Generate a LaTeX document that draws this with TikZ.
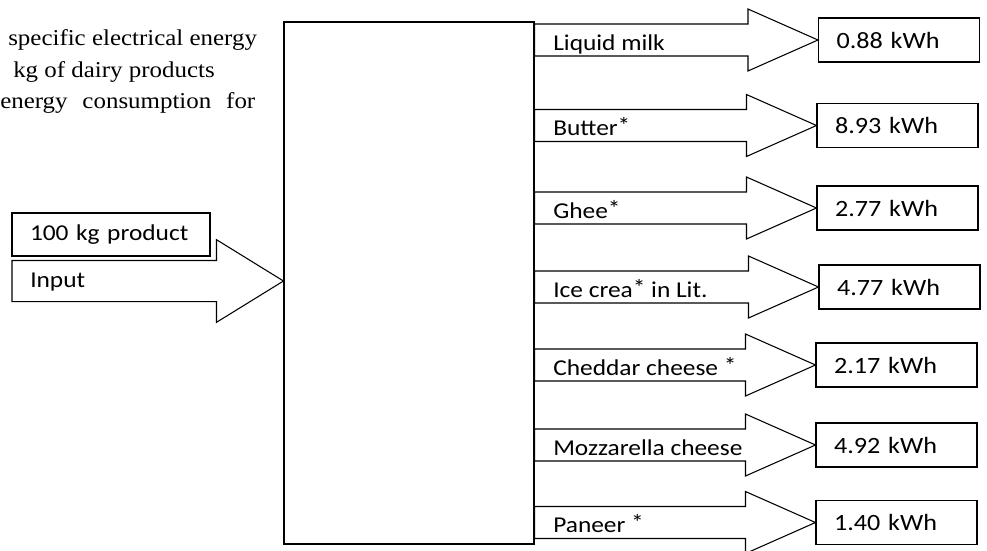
\documentclass[tikz,border=0pt]{standalone}
\usepackage{fontspec}
\setmainfont{Liberation Serif}[FakeStretch=1.1]
\newfontfamily\calfont{Carlito}[FakeStretch=1.12]
\usetikzlibrary{calc}

\tikzset{
  flowline/.style={line width=0.8pt, line join=miter},
  valbox/.style={draw, line width=0.8pt, minimum height=33pt, text width=93.75pt,
    inner xsep=13.5pt, align=left, font=\calfont\fontsize{17.5}{20}\selectfont},
  prodlabel/.style={anchor=base west, inner sep=0pt, font=\calfont\fontsize{17}{20}\selectfont},
  headtext/.style={anchor=base west, inner sep=0pt, font=\fontsize{17}{24}\selectfont}
}

% raised star as in the labels
\newcommand{\starmark}{\raisebox{.15ex}{*}}

% block arrow from the side of one node to the west of another
\newcommand{\flowarrow}[2]{%
  \draw[flowline] let \p1=(#1), \p2=(#2.west) in
    (\x1,\y2+12pt) -- (\x2-52.5pt,\y2+12pt) -- (\x2-52.5pt,\y2+23.25pt) -- (\p2)
    -- (\x2-52.5pt,\y2-23.25pt) -- (\x2-52.5pt,\y2-12pt) -- (\x1,\y2-12pt) -- cycle;}

\begin{document}
\begin{tikzpicture}[x=0.75pt, y=-0.75pt]
\useasboundingbox (0,0) rectangle (987,550);
%
% heading (cut at the left)
\node[headtext] (head1) at (8,45) {specific electrical energy};
\node[headtext] (head2) at (13,77) {kg of dairy products};
\node[headtext] (head3) at (0,108) {\makebox[191.25pt][s]{energy consumption for}};
%
% plant box
\node[draw, line width=0.8pt, minimum width=187.5pt, minimum height=391.5pt] (bigbox) at (409,283) {};
%
% input side
\node[draw, line width=0.8pt, minimum width=148.5pt, minimum height=32.25pt, text width=121.5pt,
  inner xsep=13.5pt, align=left, font=\calfont\fontsize{17}{20}\selectfont] (amount) at (111,234.5) {100 kg product};
\coordinate (inleft) at (12,281);
\draw[flowline] let \p1=(inleft), \p2=(bigbox.west |- inleft) in
  (\x1,\y1+15.4pt) -- (\x2-50.25pt,\y1+15.4pt) -- (\x2-50.25pt,\y1+31pt) -- (\p2)
  -- (\x2-50.25pt,\y1-31pt) -- (\x2-50.25pt,\y1-15.4pt) -- (\x1,\y1-15.4pt) -- cycle;
\node[prodlabel] (inlabel) at (30,287) {Input};
%
% outputs
\node[valbox] (v1) at (899,40) {0.88 kWh};
\node[valbox] (v2) at (897.5,125.5) {8.93 kWh};
\node[valbox] (v3) at (897.5,208) {2.77 kWh};
\node[valbox] (v4) at (899.5,287) {4.77 kWh};
\node[valbox] (v5) at (896.5,365) {2.17 kWh};
\node[valbox] (v6) at (896.5,445) {4.92 kWh};
\node[valbox] (v7) at (896.5,522.5) {1.40 kWh};
%
\flowarrow{bigbox.east}{v1}
\flowarrow{bigbox.east}{v2}
\flowarrow{bigbox.east}{v3}
\flowarrow{bigbox.east}{v4}
\flowarrow{bigbox.east}{v5}
\flowarrow{bigbox.east}{v6}
\flowarrow{bigbox.east}{v7}
%
\node[prodlabel] (p1) at (553,50) {Liquid milk};
\node[prodlabel] (p2) at (553,135) {Butter\starmark};
\node[prodlabel] (p3) at (553,218) {Ghee\starmark};
\node[prodlabel] (p4) at (553,297) {Ice crea\starmark{} in Lit.};
\node[prodlabel] (p5) at (553,375) {Cheddar cheese \starmark};
\node[prodlabel] (p6) at (553,455) {Mozzarella cheese};
\node[prodlabel] (p7) at (553,532) {Paneer \starmark};
%
\end{tikzpicture}
\end{document}
